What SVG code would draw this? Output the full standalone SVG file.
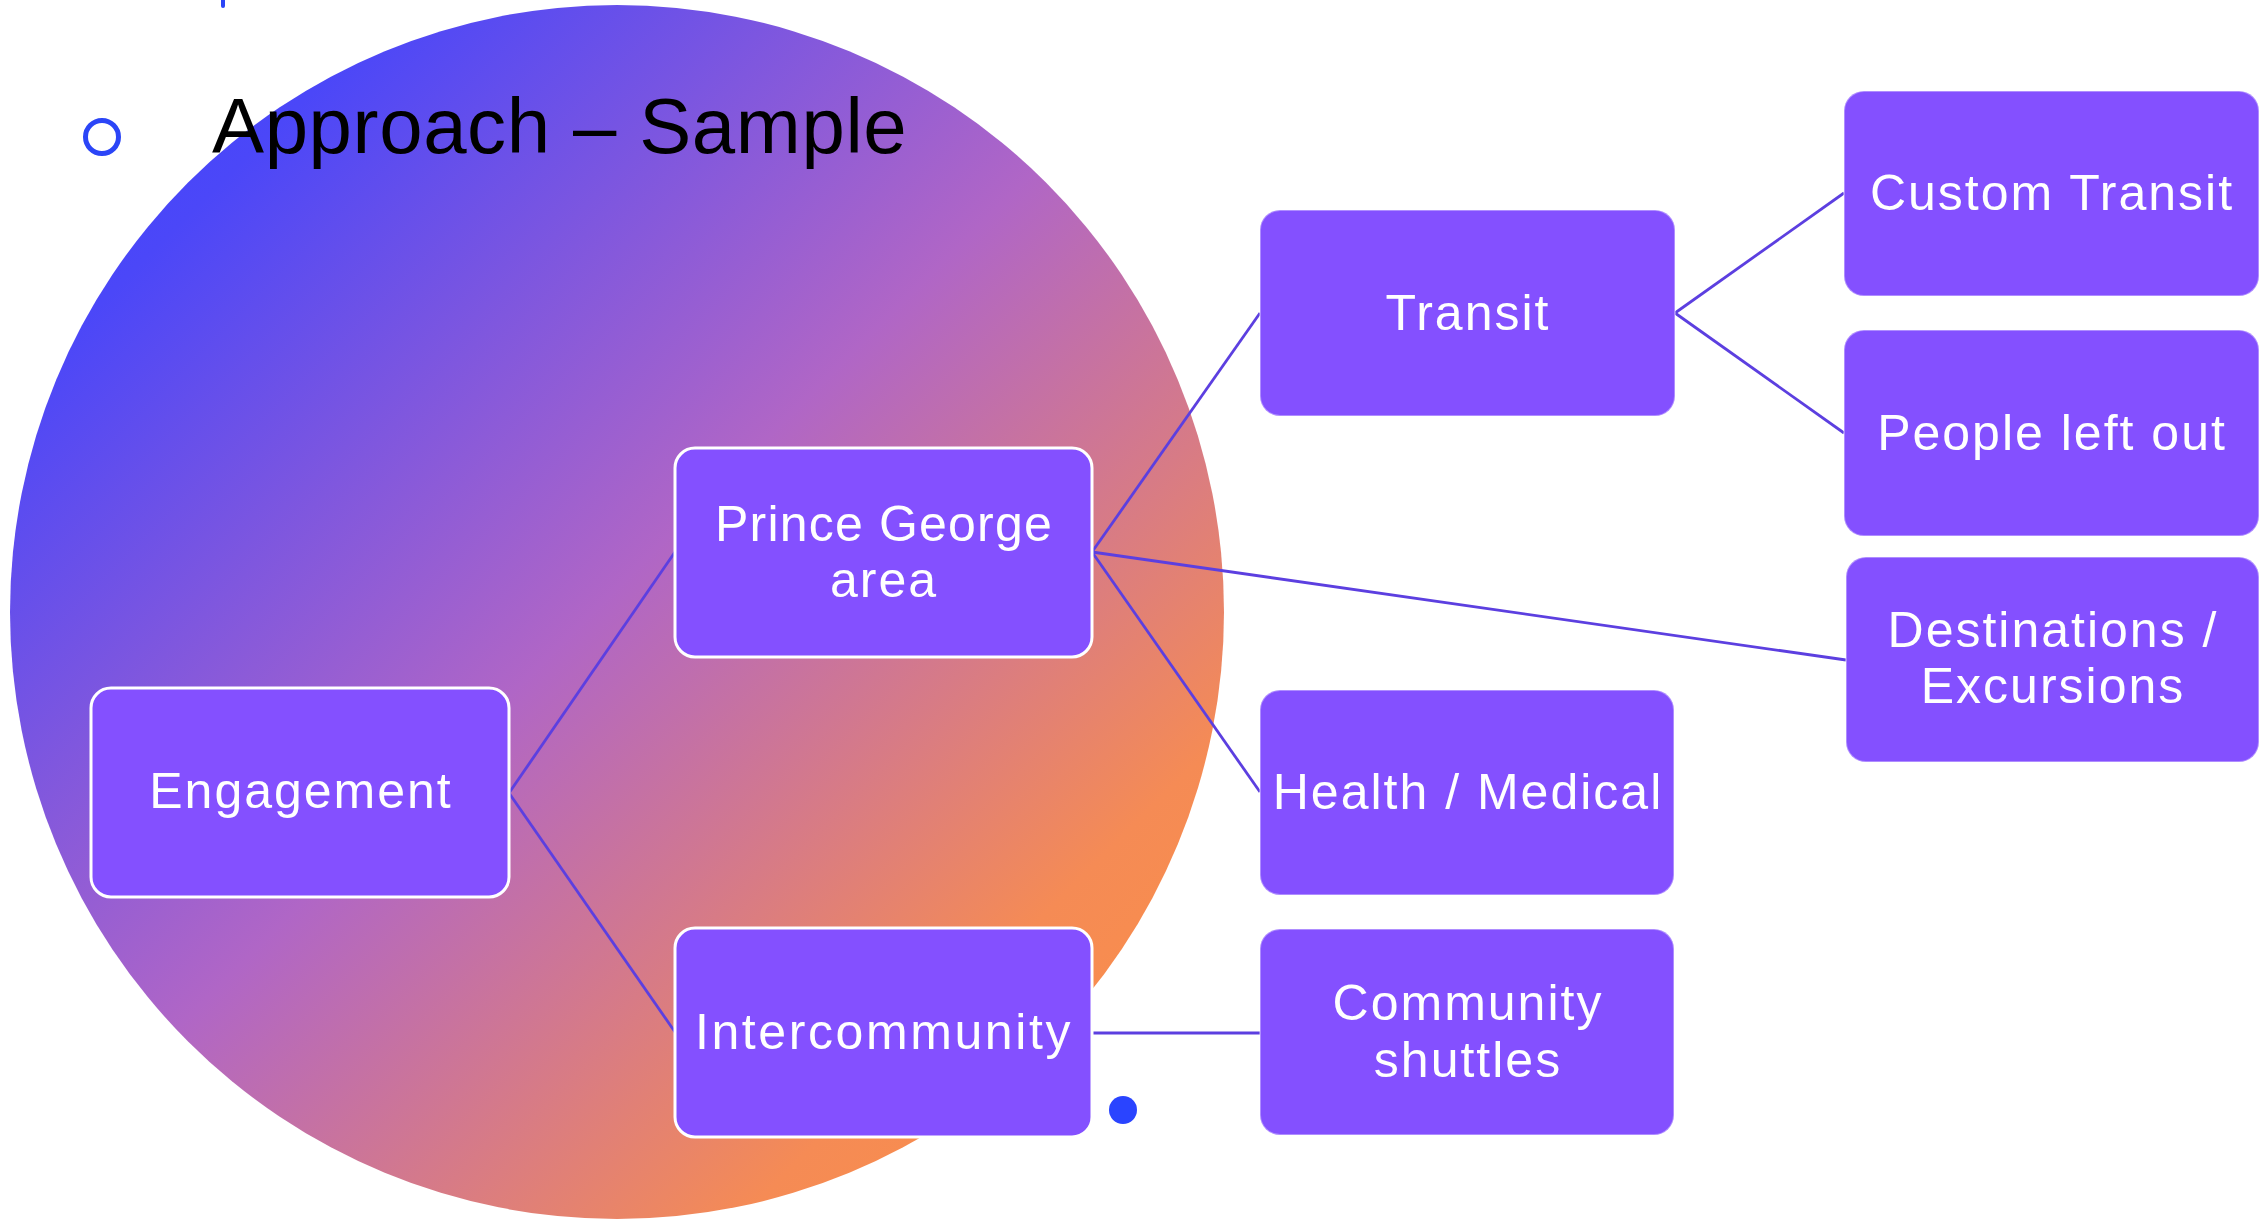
<svg xmlns="http://www.w3.org/2000/svg" width="2261" height="1225" viewBox="0 0 2261 1225">
  <defs>
    <linearGradient id="bg" gradientUnits="userSpaceOnUse" x1="10" y1="5" x2="1225" y2="1220">
      <stop offset="0" stop-color="#3c43ff"/>
      <stop offset="0.16" stop-color="#4b47f8"/>
      <stop offset="0.49" stop-color="#b066c6"/>
      <stop offset="0.80" stop-color="#f58b55"/>
      <stop offset="1" stop-color="#ff9040"/>
    </linearGradient>
    <style>
      .box { fill: #8450ff; }
      .boxw { fill: #8450ff; stroke: #ffffff; stroke-width: 3; }
      .boxr { fill: #8450ff; stroke: #ffffff; stroke-opacity: 0.35; stroke-width: 2; }
      .lbl { font-family: "Liberation Sans", Arial, sans-serif; font-size: 50px; fill: #ffffff; text-anchor: middle; letter-spacing: 2px; }
      .title { font-family: "Liberation Sans", Arial, sans-serif; font-size: 78px; fill: #000000; letter-spacing: 0.6px; }
      .conn { stroke: #5c3fe0; stroke-width: 2.8; fill: none; }
    </style>
  </defs>
  <rect width="2261" height="1225" fill="#ffffff"/>
  <circle cx="617" cy="612" r="607" fill="url(#bg)"/>
  <line x1="223" y1="0" x2="223" y2="6" stroke="#2b45f7" stroke-width="4" stroke-linecap="round"/>
  <circle cx="102" cy="137" r="16.5" fill="none" stroke="#2b45f7" stroke-width="5"/>
  <text class="title" x="212" y="153">Approach – Sample</text>

  <g id="connectors">
    <line class="conn" x1="509" y1="793" x2="675" y2="552"/>
    <line class="conn" x1="509" y1="793" x2="675" y2="1032"/>
    <line class="conn" x1="1092" y1="552" x2="1260" y2="313"/>
    <line class="conn" x1="1092" y1="552" x2="1260" y2="792"/>
    <line class="conn" x1="1092" y1="552" x2="1846" y2="660"/>
    <line class="conn" x1="1675" y1="313" x2="1844" y2="193"/>
    <line class="conn" x1="1675" y1="313" x2="1844" y2="433"/>
    <line class="conn" x1="1092" y1="1033" x2="1260" y2="1033"/>
  </g>

  <g id="engagement">
    <rect class="boxw" x="91" y="688" width="418" height="209" rx="20"/>
    <text class="lbl" x="301" y="808">Engagement</text>
  </g>
  <g id="prince-george">
    <rect class="boxw" x="675" y="448" width="417" height="209" rx="20"/>
    <text class="lbl" x="884" y="541" style="letter-spacing:1.2px">Prince George</text>
    <text class="lbl" x="884" y="597">area</text>
  </g>
  <g id="intercommunity">
    <rect class="boxw" x="675" y="928" width="417" height="209" rx="20"/>
    <text class="lbl" x="884" y="1049" style="letter-spacing:2.6px">Intercommunity</text>
  </g>
  <g id="transit">
    <rect class="boxr" x="1260" y="210" width="415" height="206" rx="20"/>
    <text class="lbl" x="1468" y="330">Transit</text>
  </g>
  <g id="health-medical">
    <rect class="boxr" x="1260" y="690" width="414" height="205" rx="20"/>
    <text class="lbl" x="1468" y="809">Health / Medical</text>
  </g>
  <g id="community-shuttles">
    <rect class="boxr" x="1260" y="929" width="414" height="206" rx="20"/>
    <text class="lbl" x="1468" y="1020">Community</text>
    <text class="lbl" x="1468" y="1077">shuttles</text>
  </g>
  <g id="custom-transit">
    <rect class="boxr" x="1844" y="91" width="415" height="205" rx="20"/>
    <text class="lbl" x="2052" y="210">Custom Transit</text>
  </g>
  <g id="people-left-out">
    <rect class="boxr" x="1844" y="330" width="415" height="206" rx="20"/>
    <text class="lbl" x="2052" y="450">People left out</text>
  </g>
  <g id="destinations">
    <rect class="boxr" x="1846" y="557" width="413" height="205" rx="20"/>
    <text class="lbl" x="2053" y="647">Destinations /</text>
    <text class="lbl" x="2053" y="703">Excursions</text>
  </g>

  <circle cx="1123" cy="1110" r="14" fill="#2a44ff"/>
</svg>
